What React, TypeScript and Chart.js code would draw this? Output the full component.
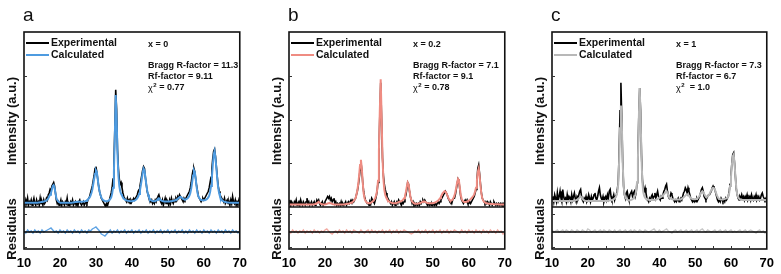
import React, { useEffect, useRef } from 'react';
import { Chart, registerables } from 'chart.js';

Chart.register(...registerables);

// 2θ scan grid (degrees)
const TWO_THETA_START = 10;
const PATTERN_STEP = 0.25;
const RESIDUAL_STEP = 0.5;
const X_TICKS = [10, 20, 30, 40, 50, 60, 70];
const X_MINOR_TICKS = [15, 20, 25, 30, 35, 40, 45, 50, 55, 60, 65];
const MAIN_Y_TICKS = [25, 50, 75];
const RESID_Y_TICKS = [18, -15];

// ---------- panel a : x = 0 ----------
const A_EXP = [
  3, 1, 4, 2, 5, 1, 3, 2, 4, 1, 3, 5, 2, 1, 4, 2, 3, 1, 5, 2,
  3, 1, 4, 2, 3, 5, 4, 7, 8, 10, 9, 12, 13, 14, 12, 8, 4, 2, 3, 1,
  2, 4, 1, 3, 2, 1, 3, 2, 5, 1, 2, 1, 3, 2, 4, 1, 2, 3, 1, 2,
  1, 3, 4, 2, 1, 2, 3, 1, 2, 3, 2, 4, 5, 6, 8, 10, 12, 15, 18, 22,
  23, 20, 16, 12, 9, 7, 5, 4, 3, 2, 1, 0, 2, 1, 3, 4, 6, 8, 11, 16,
  25, 44, 67, 56, 33, 22, 16, 13, 14, 11, 8, 6, 5, 4, 3, 5, 3, 4, 2, 4,
  3, 4, 5, 4, 5, 6, 7, 9, 10, 12, 15, 18, 21, 23, 22, 17, 13, 9, 7, 5,
  4, 3, 4, 2, 3, 2, 4, 3, 5, 6, 7, 5, 3, 2, 4, 1, 3, 5, 2, 4,
  3, 1, 4, 2, 5, 3, 2, 4, 3, 5, 4, 6, 5, 7, 6, 5, 4, 3, 5, 4,
  5, 6, 7, 8, 9, 11, 14, 18, 21, 22, 20, 16, 12, 9, 6, 5, 4, 3, 4, 5,
  4, 5, 6, 7, 8, 9, 11, 14, 17, 22, 28, 32, 33, 29, 23, 17, 12, 9, 7, 6,
  5, 4, 3, 5, 2, 3, 4, 2, 3, 1, 4, 2, 6, 3, 2, 4, 1, 3, 2, 4,
  2,
];
const A_CALC = [
  2.5, 2.5, 2.5, 2.5, 2.5, 2.5, 2.5, 2.5, 2.5, 2.5, 2.5, 2.5, 2.5, 2.5, 2.5, 2.5, 2.6, 2.6, 2.7, 2.8,
  2.9, 3, 3.1, 3.3, 3.5, 3.8, 4.2, 5, 6, 7, 8, 10, 12, 12.5, 11, 8, 5, 4, 3.2, 2.8,
  2.6, 2.5, 2.5, 2.5, 2.5, 2.5, 2.5, 2.5, 2.5, 2.5, 2.5, 2.5, 2.5, 2.5, 2.6, 2.6, 2.7, 2.8, 2.9, 3,
  3, 3, 3, 3, 3, 3, 3.1, 3.2, 3.3, 3.5, 3.8, 4.2, 4.8, 5.5, 6.5, 8, 10, 13, 16, 19,
  21, 20, 16, 12, 9, 7, 5.5, 4.5, 4, 3.6, 3.4, 3.3, 3.3, 3.4, 3.6, 4, 4.6, 5.5, 7.5, 11,
  20, 40, 64, 52, 30, 18, 12, 9, 7.5, 6.5, 5.5, 4.8, 4.3, 4, 3.8, 3.6, 3.5, 3.4, 3.3, 3.3,
  3.3, 3.4, 3.5, 3.7, 4, 4.4, 5, 6, 7.5, 9.5, 12.5, 16, 19.5, 22, 21, 17, 13, 9.5, 7, 5.5,
  4.6, 4, 3.6, 3.4, 3.3, 3.3, 3.4, 3.6, 4, 4.6, 5, 4.6, 4, 3.6, 3.4, 3.3, 3.2, 3.2, 3.2, 3.2,
  3.2, 3.2, 3.2, 3.3, 3.3, 3.4, 3.5, 3.6, 3.8, 4, 4.3, 4.7, 5.2, 5.6, 5.8, 5.5, 5, 4.6, 4.4, 4.3,
  4.4, 4.6, 5, 5.6, 6.5, 8, 10.5, 14, 18, 21, 20, 16, 11.5, 8, 6, 5, 4.4, 4, 3.8, 3.8,
  3.8, 3.9, 4.1, 4.4, 4.8, 5.5, 6.5, 8.5, 12, 17, 24, 30, 32, 28, 22, 16, 11, 8, 6, 4.8,
  4, 3.5, 3.2, 3, 2.8, 2.7, 2.6, 2.6, 2.5, 2.5, 2.5, 2.5, 2.5, 2.5, 2.5, 2.5, 2.5, 2.5, 2.5, 2.5,
  2.5,
];
const A_RESID = [
  1, -1, 2, 0, 1, -1, 2, 0, 1, -1, 2, 0, 1, 2, 3, 4, 2, 0, 1, -1,
  2, 0, 1, -1, 2, 0, 1, -1, 2, 0, 1, -1, 2, 0, 1, -1, 2, 1, 3, 4,
  5, 3, 1, -2, -3, -4, -2, 0, 2, -1, 1, 0, 2, -1, 1, 0, 2, -1, 1, 0,
  2, -1, 1, 0, 2, -1, 1, 0, 2, -1, 1, 0, 2, -1, 1, 0, 2, -1, 1, 0,
  2, -1, 1, 0, 2, -1, 1, 0, 2, -1, 1, -1, 2, 0, 1, -1, 2, 0, 1, -1,
  2, 0, 1, -1, 2, 0, 1, -1, 2, 0, 1, -1, 2, 0, 1, -1, 2, 0, 1, -1,
  1,
];
const A_COMPOSITION = 'x = 0';
const A_BRAGG = 'Bragg R-factor = 11.3';
const A_RF = 'Rf-factor = 9.11';
const A_CHI2 = ' = 0.77';

// ---------- panel b : x = 0.2 ----------
const B_EXP = [
  2, 4, 1, 3, 2, 1, 3, 2, 4, 1, 2, 3, 1, 4, 2, 1, 3, 2, 1, 3,
  5, 2, 3, 1, 2, 3, 1, 2, 3, 1, 2, 4, 3, 4, 2, 1, 2, 3, 1, 2,
  3, 4, 5, 6, 5, 6, 4, 5, 3, 4, 5, 2, 3, 1, 2, 1, 2, 1, 3, 1,
  2, 1, 2, 3, 1, 2, 3, 2, 3, 4, 3, 4, 3, 4, 5, 7, 9, 12, 16, 21,
  26, 21, 14, 9, 6, 4, 3, 2, 2, 1, 3, 2, 5, 4, 3, 2, 4, 6, 9, 14,
  30, 52, 71, 50, 28, 18, 13, 10, 8, 6, 5, 4, 3, 2, 3, 1, 2, 3, 1, 2,
  3, 2, 4, 3, 2, 1, 3, 2, 3, 5, 7, 10, 14, 13, 9, 6, 4, 2, 3, 1,
  2, 1, 2, 1, 2, 1, 3, 2, 3, 4, 3, 4, 3, 2, 1, 2, 1, 2, 1, 2,
  1, 2, 1, 2, 1, 2, 3, 2, 3, 4, 5, 6, 7, 8, 9, 8, 7, 5, 4, 3,
  3, 2, 4, 5, 5, 7, 10, 13, 16, 15, 10, 6, 4, 3, 2, 3, 4, 3, 4, 2,
  2, 3, 2, 3, 4, 5, 6, 8, 10, 15, 22, 24, 19, 13, 8, 5, 4, 3, 2, 3,
  2, 3, 2, 1, 3, 2, 1, 2, 3, 2, 1, 2, 1, 2, 1, 2, 1, 2, 1, 2,
  1,
];
const B_CALC = [
  1.5, 1.5, 1.5, 1.5, 1.5, 1.5, 1.5, 1.5, 1.5, 1.5, 1.5, 1.5, 1.5, 1.5, 1.5, 1.5, 1.5, 1.5, 1.5, 1.5,
  1.5, 1.5, 1.5, 1.5, 1.5, 1.5, 1.5, 1.5, 1.6, 1.7, 1.9, 2.2, 2.6, 3, 2.5, 2, 1.7, 1.6, 1.5, 1.5,
  1.5, 1.6, 1.8, 2, 2.2, 2.3, 2.2, 2, 1.8, 1.6, 1.5, 1.5, 1.5, 1.5, 1.5, 1.5, 1.5, 1.5, 1.5, 1.5,
  1.5, 1.5, 1.6, 1.6, 1.7, 1.8, 1.9, 2, 2.2, 2.4, 2.7, 3, 3.5, 4.2, 5, 7, 9.5, 13, 18, 24,
  27, 22, 14, 8, 5, 3.5, 2.8, 2.4, 2.2, 2.2, 2.3, 2.5, 2.8, 3.2, 3.6, 4.3, 5.2, 6.8, 9.5, 15,
  32, 55, 73, 52, 28, 16, 10, 7, 5.5, 4.5, 3.8, 3.3, 2.9, 2.6, 2.4, 2.3, 2.2, 2.2, 2.2, 2.3,
  2.4, 2.6, 2.8, 3, 3.2, 3.4, 3.7, 4.2, 5, 6.5, 8.5, 11.5, 14, 13, 9.5, 6, 4, 3, 2.5, 2.2,
  2, 1.9, 1.9, 1.9, 2, 2.1, 2.3, 2.5, 2.8, 3.1, 3.3, 3.1, 2.8, 2.5, 2.3, 2.2, 2.1, 2.1, 2.1, 2.2,
  2.2, 2.3, 2.5, 2.7, 3, 3.3, 3.7, 4.3, 5, 6, 7, 8, 8.5, 9, 8.8, 8, 6.8, 5.5, 4.5, 3.8,
  3.6, 3.8, 4.3, 5.2, 6.5, 8.5, 11, 14, 16, 15, 11, 7, 4.8, 3.6, 3, 2.8, 2.8, 2.9, 3.1, 3.4,
  3.7, 4, 4.4, 5, 5.6, 6.3, 7.2, 8.8, 11, 15, 20, 22, 18, 12, 7.5, 5, 3.7, 3, 2.6, 2.3,
  2.1, 2, 1.9, 1.8, 1.8, 1.7, 1.7, 1.7, 1.6, 1.6, 1.6, 1.6, 1.6, 1.6, 1.5, 1.5, 1.5, 1.5, 1.5, 1.5,
  1.5,
];
const B_RESID = [
  1, -1, 2, 0, 1, -1, 1, 0, 2, -1, 1, 0, 1, -1, 2, 0, 1, -1, 1, 0,
  2, 3, 1, -1, -2, 0, 1, -1, 2, 0, 1, -1, 2, 0, 1, -1, 2, 1, 0, -1,
  2, 0, -1, 1, 2, -1, 2, 0, 1, -1, 1, 0, 2, -1, 1, 0, 2, -1, 1, 0,
  2, -1, 1, 0, 2, 1, 0, -1, -2, -1, 1, 0, 2, -1, 1, 0, 2, -1, 1, 0,
  2, -1, 1, 0, 2, -1, 1, 0, 2, -1, 1, 0, 2, 1, 0, -1, 2, 0, 1, -1,
  2, 0, 1, -1, 2, 0, 1, -1, 2, 0, 1, -1, 2, 0, 1, -1, 2, 0, 1, -2,
  -1,
];
const B_COMPOSITION = 'x = 0.2';
const B_BRAGG = 'Bragg R-factor = 7.1';
const B_RF = 'Rf-factor = 9.1';
const B_CHI2 = ' = 0.78';

// ---------- panel c : x = 1 ----------
const C_EXP = [
  4, 6, 3, 7, 5, 3, 8, 4, 6, 9, 5, 3, 10, 6, 4, 5, 3, 7, 4, 6,
  5, 3, 7, 4, 6, 8, 5, 3, 6, 5, 7, 9, 10, 6, 4, 3, 5, 4, 6, 3,
  4, 7, 5, 3, 6, 4, 5, 7, 8, 5, 4, 6, 9, 11, 7, 5, 4, 6, 3, 5,
  6, 4, 7, 5, 9, 10, 6, 4, 5, 7, 4, 6, 7, 10, 14, 30, 55, 71, 50, 26,
  12, 7, 5, 8, 9, 6, 4, 7, 8, 9, 6, 8, 9, 6, 8, 14, 28, 52, 68, 55,
  30, 16, 10, 9, 11, 8, 5, 4, 3, 5, 4, 6, 7, 5, 6, 8, 5, 7, 9, 6,
  5, 4, 6, 5, 7, 9, 10, 12, 13, 9, 6, 5, 6, 8, 7, 5, 4, 3, 4, 3,
  4, 5, 3, 4, 5, 4, 6, 8, 9, 11, 10, 8, 11, 9, 7, 5, 4, 3, 4, 3,
  4, 3, 5, 4, 5, 6, 8, 10, 11, 9, 6, 5, 4, 5, 6, 7, 7, 8, 9, 11,
  12, 11, 10, 8, 6, 4, 3, 4, 3, 5, 4, 3, 4, 3, 5, 4, 5, 6, 9, 13,
  18, 25, 30, 31, 25, 17, 10, 7, 5, 4, 6, 5, 7, 5, 6, 4, 6, 5, 7, 4,
  5, 6, 4, 7, 5, 4, 6, 5, 7, 4, 5, 6, 4, 5, 7, 8, 6, 5, 4, 5,
  4,
];
const C_CALC = [
  3.5, 3.5, 3.5, 3.5, 3.5, 3.5, 3.5, 3.5, 3.5, 3.5, 3.5, 3.5, 3.5, 3.5, 3.5, 3.5, 3.5, 3.5, 3.5, 3.5,
  3.5, 3.5, 3.5, 3.5, 3.5, 3.6, 3.7, 3.9, 4.2, 4.6, 5, 5.5, 6, 5.5, 4.8, 4.2, 3.8, 3.6, 3.5, 3.5,
  3.5, 3.5, 3.5, 3.5, 3.5, 3.5, 3.5, 3.5, 3.5, 3.5, 3.5, 3.5, 3.5, 3.5, 3.5, 3.5, 3.5, 3.5, 3.5, 3.5,
  3.5, 3.5, 3.5, 3.6, 3.7, 3.8, 3.9, 4, 4.2, 4.5, 4.9, 5.5, 6.5, 8.5, 13, 26, 45, 58, 48, 25,
  12, 7.5, 5.5, 4.6, 4.2, 4, 3.9, 3.9, 4, 4.2, 4.5, 5, 5.7, 6.8, 9, 14, 27, 50, 68, 52,
  28, 14, 8.5, 6.3, 5.3, 4.7, 4.4, 4.2, 4.1, 4, 4, 4, 4, 4, 4, 4.1, 4.2, 4.4, 4.6, 4.9,
  5.2, 5.5, 5.8, 6.2, 6.6, 7.2, 7.8, 8.5, 9, 8, 6.5, 5.5, 5, 4.7, 4.5, 4.4, 4.3, 4.3, 4.3, 4.3,
  4.3, 4.3, 4.3, 4.4, 4.5, 4.7, 5, 5.5, 6, 6.5, 7, 7.2, 7, 6.5, 5.8, 5.2, 4.8, 4.6, 4.5, 4.5,
  4.5, 4.6, 4.8, 5.2, 5.8, 6.6, 7.6, 8.5, 9, 8.5, 7.5, 6.6, 6, 5.8, 6, 6.6, 7.5, 8.6, 9.6, 10.5,
  11, 10.8, 10, 8.5, 7, 5.8, 5, 4.6, 4.4, 4.3, 4.3, 4.4, 4.5, 4.6, 4.8, 5, 5.3, 6, 8, 12,
  17, 24, 29, 30, 25, 17, 10.5, 7, 5.5, 4.8, 4.4, 4.2, 4.1, 4, 4, 4, 4, 4, 4, 4,
  4, 4, 4, 4, 4, 4, 4, 4, 4, 4, 4, 4, 4, 4, 4, 4, 4, 4, 4, 4,
  4,
];
const C_RESID = [
  2, 0, 1, 2, 0, 1, 2, 0, 2, 1, 0, 2, 1, 0, 2, 1, 0, 2, 1, 0,
  3, 2, 0, 1, 2, 0, 1, 2, 0, 2, 1, 0, 2, 1, 0, 2, 0, 1, 2, 0,
  1, 2, 0, 1, 2, 0, 2, 1, 0, 2, 1, 0, 2, 1, 0, 1, 2, 3, 1, 0,
  2, 0, 1, 2, 3, 1, 0, -1, 1, 2, 0, 1, 2, 0, 1, 2, 0, 1, 2, 0,
  1, 2, 0, 2, 3, 1, 0, 2, 1, 0, 1, 2, 0, 1, 2, 0, 1, 2, 0, 1,
  2, 0, 1, 0, 1, 2, 0, 1, 2, 0, 1, 2, 1, 0, -1, 1, 2, 0, 1, -1,
  0,
];
const C_COMPOSITION = 'x = 1';
const C_BRAGG = 'Bragg R-factor = 7.3';
const C_RF = 'Rf-factor = 6.7';
const C_CHI2 = '  = 1.0';

const FONT = '"Liberation Sans", Arial, Helvetica, sans-serif';

type PanelDef = {
  letter: string;
  canvasLeft: number;
  canvasWidth: number;
  padRight: number;
  exp: number[];
  calc: number[];
  resid: number[];
  calcColor: string;
  residColor: string;
  composition: string;
  bragg: string;
  rf: string;
  chi2: string;
};

const PANELS: PanelDef[] = [
  { letter: 'a', canvasLeft: 0, canvasWidth: 254, padRight: 12, exp: A_EXP, calc: A_CALC, resid: A_RESID,
    calcColor: '#4e9be0', residColor: '#5ea3e4', composition: A_COMPOSITION, bragg: A_BRAGG, rf: A_RF, chi2: A_CHI2 },
  { letter: 'b', canvasLeft: 265, canvasWidth: 254, padRight: 12, exp: B_EXP, calc: B_CALC, resid: B_RESID,
    calcColor: '#ef8c82', residColor: '#f3aca4', composition: B_COMPOSITION, bragg: B_BRAGG, rf: B_RF, chi2: B_CHI2 },
  { letter: 'c', canvasLeft: 528, canvasWidth: 253, padRight: 11, exp: C_EXP, calc: C_CALC, resid: C_RESID,
    calcColor: '#b8b8b8', residColor: '#c8c8c8', composition: C_COMPOSITION, bragg: C_BRAGG, rf: C_RF, chi2: C_CHI2 },
];

function toPoints(values: number[], step: number) {
  return values.map((y, i) => ({ x: TWO_THETA_START + i * step, y }));
}

function makeFramePlugin(p: PanelDef) {
  return {
    id: 'frame' + p.letter,
    afterDraw(chart: any) {
      const { ctx, chartArea: a, scales } = chart;
      const x = scales.x, y = scales.y, yr = scales.yr;
      const L = a.left;
      ctx.save();
      ctx.strokeStyle = '#111';
      ctx.lineWidth = 1.6;
      ctx.strokeRect(a.left, a.top, a.right - a.left, a.bottom - a.top);
      ctx.beginPath();
      ctx.moveTo(a.left, yr.top);
      ctx.lineTo(a.right, yr.top);
      ctx.stroke();

      ctx.lineWidth = 1;
      ctx.strokeStyle = '#333';
      ctx.beginPath();
      for (const v of MAIN_Y_TICKS) {
        const py = Math.round(y.getPixelForValue(v)) + 0.5;
        ctx.moveTo(a.left, py); ctx.lineTo(a.left + 3, py);
      }
      for (const v of RESID_Y_TICKS) {
        const py = Math.round(yr.getPixelForValue(v)) + 0.5;
        ctx.moveTo(a.left, py); ctx.lineTo(a.left + 3, py);
      }
      for (const v of X_MINOR_TICKS) {
        const px = Math.round(x.getPixelForValue(v)) + 0.5;
        ctx.moveTo(px, a.bottom); ctx.lineTo(px, a.bottom - 3);
      }
      ctx.stroke();

      // legend
      ctx.lineWidth = 2;
      ctx.strokeStyle = '#000';
      ctx.beginPath(); ctx.moveTo(L + 2, 43); ctx.lineTo(L + 25, 43); ctx.stroke();
      ctx.strokeStyle = p.calcColor;
      ctx.beginPath(); ctx.moveTo(L + 2, 55); ctx.lineTo(L + 25, 55); ctx.stroke();
      ctx.fillStyle = '#111';
      ctx.textBaseline = 'middle';
      ctx.textAlign = 'left';
      ctx.font = `bold 10.5px ${FONT}`;
      ctx.fillText('Experimental', L + 27, 43);
      ctx.fillText('Calculated', L + 27, 55);

      // fit statistics
      const tx = L + 124;
      ctx.font = `bold 9px ${FONT}`;
      ctx.fillText(p.composition, tx, 45);
      ctx.fillText(p.bragg, tx, 66);
      ctx.fillText(p.rf, tx, 77);
      ctx.font = `9px ${FONT}`;
      ctx.fillText('χ', tx, 89);
      const cw = ctx.measureText('χ').width;
      ctx.font = `bold 6px ${FONT}`;
      ctx.fillText('2', tx + cw + 0.5, 85);
      ctx.font = `bold 9px ${FONT}`;
      ctx.fillText(p.chi2, tx + cw + 4, 88);

      // panel letter
      ctx.font = `19px ${FONT}`;
      ctx.textBaseline = 'alphabetic';
      ctx.fillText(p.letter, L - 1, 21);

      // axis titles
      ctx.font = `bold 13px ${FONT}`;
      ctx.textAlign = 'center';
      ctx.textBaseline = 'middle';
      ctx.save();
      ctx.translate(L - 12, 121);
      ctx.rotate(-Math.PI / 2);
      ctx.fillText('Intensity (a.u.)', 0, 0);
      ctx.restore();
      ctx.save();
      ctx.translate(L - 12, 229);
      ctx.rotate(-Math.PI / 2);
      ctx.fillText('Residuals', 0, 0);
      ctx.restore();

      ctx.restore();
    },
  };
}

function Panel({ p }: { p: PanelDef }) {
  const ref = useRef<HTMLCanvasElement | null>(null);
  useEffect(() => {
    if (!ref.current) return;
    const chart = new Chart(ref.current, {
      type: 'line',
      data: {
        datasets: [
          { label: 'Calculated', data: toPoints(p.calc, PATTERN_STEP), borderColor: p.calcColor, borderWidth: 2,
            pointRadius: 0, tension: 0, yAxisID: 'y' },
          { label: 'Experimental', data: toPoints(p.exp, PATTERN_STEP), borderColor: '#000', borderWidth: 1.6,
            pointRadius: 0, tension: 0, yAxisID: 'y' },
          { label: 'zero', data: [{ x: 10, y: 0 }, { x: 70, y: 0 }], borderColor: '#000', borderWidth: 1.5,
            pointRadius: 0, yAxisID: 'yr' },
          { label: 'Residuals', data: toPoints(p.resid, RESIDUAL_STEP), borderColor: p.residColor, borderWidth: 1.4,
            pointRadius: 0, tension: 0, yAxisID: 'yr' },
        ],
      },
      options: {
        animation: false,
        responsive: false,
        events: [],
        layout: { padding: { left: 24, right: p.padRight, top: 32, bottom: 0 } },
        plugins: { legend: { display: false }, tooltip: { enabled: false } },
        scales: {
          x: {
            type: 'linear', min: 10, max: 70,
            afterBuildTicks: (s: any) => { s.ticks = X_TICKS.map((v) => ({ value: v })); },
            ticks: { color: '#000', font: { family: FONT, size: 13, weight: 'bold' }, padding: 7, maxRotation: 0, autoSkip: false },
            grid: { display: false, drawTicks: false },
            border: { display: false },
            afterFit: (s: any) => { s.height = 25; },
          },
          y: {
            type: 'linear', min: 0, max: 100, stack: 'panel', stackWeight: 175, weight: 1,
            ticks: { display: false }, grid: { display: false, drawTicks: false }, border: { display: false },
            afterFit: (s: any) => { s.width = 0; },
          },
          yr: {
            type: 'linear', min: -17, max: 25, stack: 'panel', stackWeight: 42, weight: 0, position: 'left',
            ticks: { display: false }, grid: { display: false, drawTicks: false }, border: { display: false },
            afterFit: (s: any) => { s.width = 0; },
          },
        },
      } as any,
      plugins: [makeFramePlugin(p)],
    });
    return () => chart.destroy();
  }, [p]);
  return (
    <canvas
      ref={ref}
      width={p.canvasWidth}
      height={274}
      style={{ position: 'absolute', left: p.canvasLeft, top: 0, width: p.canvasWidth, height: 274 }}
    />
  );
}

export default function App() {
  return (
    <div style={{ position: 'fixed', left: 0, top: 0, width: 781, height: 274, background: '#fff', overflow: 'hidden' }}>
      {PANELS.map((p) => (
        <Panel key={p.letter} p={p} />
      ))}
    </div>
  );
}
